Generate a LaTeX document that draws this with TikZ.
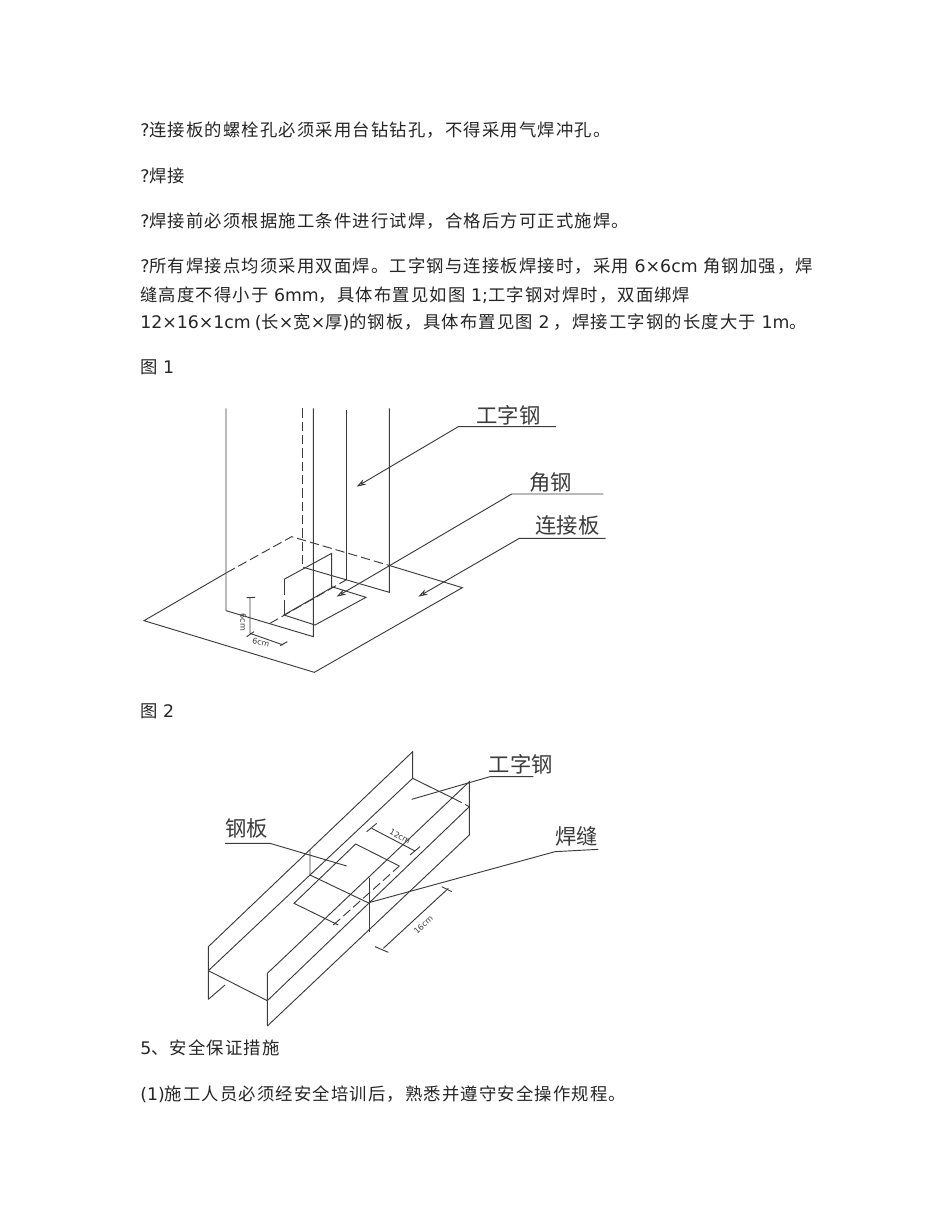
\documentclass[tikz,border=0pt]{standalone}
\usepackage{fontspec}
\setmainfont{DejaVu Sans}
\newfontfamily\cjk[LetterSpace=6.7]{Noto Sans CJK SC}
\newfontfamily\cjklabel{Noto Sans CJK SC}
\newcommand{\cn}[1]{{\cjk #1}}
\usepackage{tikz}
\usetikzlibrary{positioning}
\usetikzlibrary{calc}
\usetikzlibrary{arrows.meta}
\definecolor{inkline}{HTML}{3C3C3C}
\tikzset{
    bodytext/.style={anchor=base west, inner sep=0pt, font=\fontsize{13pt}{15pt}\selectfont, text=black!85},
    partlabel/.style={inner sep=0pt, font=\cjklabel\fontsize{16pt}{18pt}\selectfont, text=inkline},
    dimtext/.style={inner sep=0pt, font=\fontsize{6pt}{7pt}\selectfont, text=inkline},
    part/.style={draw=inkline, line width=0.7pt},
    hidden/.style={part, dash pattern=on 7pt off 3pt},
    leader/.style={part, ->, >={Stealth[open, length=7pt, width=4.5pt]}}
}
\begin{document}
\begin{tikzpicture}[x=0.75pt, y=-0.75pt]
    \useasboundingbox[fill=white] (0,0) rectangle (950,1230);

    % Text above the figures
    \node[bodytext] (t1) at (140,137) {?\cn{连接板的螺栓孔必须采用台钻钻孔，不得采用气焊冲孔。}};
    \node[bodytext] (t2) at (140,183) {?\cn{焊接}};
    \node[bodytext] (t3) at (140,228) {?\cn{焊接前必须根据施工条件进行试焊，合格后方可正式施焊。}};
    \node[bodytext] (t4) at (140,273) {?\cn{所有焊接点均须采用双面焊。工字钢与连接板焊接时，采用} 6×6cm \cn{角钢加强，焊}};
    \node[bodytext] (t5) at (140,301) {\cn{缝高度不得小于} 6mm\cn{，具体布置见如图} 1;\cn{工字钢对焊时，双面绑焊}};
    \node[bodytext] (t6) at (140,329) {12×16×1cm\hspace{3pt}(\cn{长}×\cn{宽}×\cn{厚})\cn{的钢板，具体布置见图} 2\hspace{3pt}\cn{，焊接工字钢的长度大于} 1m\cn{。}};
    \node[bodytext] (t7) at (140,373) {\cn{图} 1};
    \node[bodytext] (t8) at (140,717) {\cn{图} 2};
    \node[bodytext] (t9) at (140,1054) {5\cn{、安全保证措施}};
    \node[bodytext] (t10) at (140,1100) {(1)\cn{施工人员必须经安全培训后，熟悉并遵守安全操作规程。}};

    % Figure 1
    \begin{scope}[shift={(130,395)}, x=0.25pt, y=-0.25pt]
        % Plate
        \draw[part] (290,533) -- (42,677) -- (553,832) -- (997,578) -- (780,512);
        \draw[hidden] (290,533) -- (485,425) -- (780,512);
        % Column
        \draw[part] (288,40) -- (288,647) -- (550,725) -- (550,40);
        \draw[hidden] (517,40) -- (517,515);
        \draw[part] (520,517) -- (778,592) -- (778,40);
        \draw[part] (648,45) -- (648,555);
        \draw[hidden] (420,685) -- (648,555);
        % Angle steel
        \draw[part] (462,553) -- (605,475) -- (605,578) -- (462,660) -- (555,690) -- (708,607) -- (605,575);
        \draw[part] (462,553) -- (462,600);
        \draw[part] (462,615) -- (462,660);
        % Sizes
        \draw[part] (350,608) -- (375,607);
        \draw[part] (360,607) -- (360,715) -- (460,750);
        \draw[part] (350,725) -- (372,710);
        \draw[part] (450,752) -- (472,740);
        \node[dimtext, rotate=-90] (dimA) at (340,682) {6cm};
        \node[dimtext, rotate=-12] (dimB) at (393,742) {6cm};
        % Labels
        \node[partlabel] (beamA) at (1135,60) {工字钢};
        \node[partlabel] (angleA) at (1262,262) {角钢};
        \node[partlabel] (plateA) at (1312,392) {连接板};
        \coordinate (beamAend) at (1278,95);
        \coordinate (beamAbend) at (985,95);
        \coordinate (beamAtip) at (680,275);
        \coordinate (angleAend) at (1420,297);
        \coordinate (angleAbend) at (1145,297);
        \coordinate (angleAtip) at (620,605);
        \coordinate (plateAend) at (1427,430);
        \coordinate (plateAbend) at (1168,430);
        \coordinate (plateAtip) at (865,605);
        \draw[leader] (beamAend) -- (beamAbend) -- (beamAtip);
        \draw[leader] (angleAend) -- (angleAbend) -- (angleAtip);
        \draw[leader] (plateAend) -- (plateAbend) -- (plateAtip);
    \end{scope}

    % Figure 2
    \begin{scope}[shift={(190,740)}, x=0.25pt, y=-0.25pt]
        % Beam
        \draw[part] (55,778) -- (55,620) -- (668,35) -- (668,115) -- (55,692);
        \draw[part] (55,778) -- (105,735);
        \draw[part] (55,692) -- (232,782);
        \draw[part] (232,858) -- (232,700) -- (838,125) -- (838,285) -- (232,858);
        \draw[part] (232,782) -- (838,200);
        \draw[part] (668,115) -- (790,175);
        \draw[hidden] (790,175) -- (838,200);
        % Joint
        \draw[part] (360,330) -- (360,405) -- (538,490);
        \draw[part] (538,415) -- (538,575);
        % Steel plate
        \draw[part] (445,555) -- (312,490) -- (497,312) -- (628,378);
        \draw[hidden] (430,555) -- (628,378);
        % Sizes
        \draw[part] (545,265) -- (675,333);
        \draw[part] (530,275) -- (560,250);
        \draw[part] (660,345) -- (690,320);
        \draw[part] (580,625) -- (775,445);
        \draw[part] (555,620) -- (595,637);
        \draw[part] (755,440) -- (785,455);
        \node[dimtext, rotate=-28] (dimC) at (630,290) {12cm};
        \node[dimtext, rotate=43] (dimD) at (700,555) {16cm};
        % Labels
        \node[partlabel] (beamB) at (992,72) {工字钢};
        \node[partlabel] (plateB) at (170,265) {钢板};
        \node[partlabel] (weldB) at (1160,290) {焊缝};
        \coordinate (beamBend) at (1030,110);
        \coordinate (beamBbend) at (900,110);
        \coordinate (beamBtip) at (665,178);
        \coordinate (plateBend) at (105,310);
        \coordinate (plateBbend) at (240,310);
        \coordinate (plateBtip) at (470,378);
        \coordinate (weldBend) at (1225,328);
        \coordinate (weldBbend) at (1095,335);
        \coordinate (weldBtip) at (540,487);
        \draw[part] (beamBend) -- (beamBbend) -- (beamBtip);
        \draw[part] (plateBend) -- (plateBbend) -- (plateBtip);
        \draw[part] (weldBend) -- (weldBbend) -- (weldBtip);
    \end{scope}
\end{tikzpicture}
\end{document}
